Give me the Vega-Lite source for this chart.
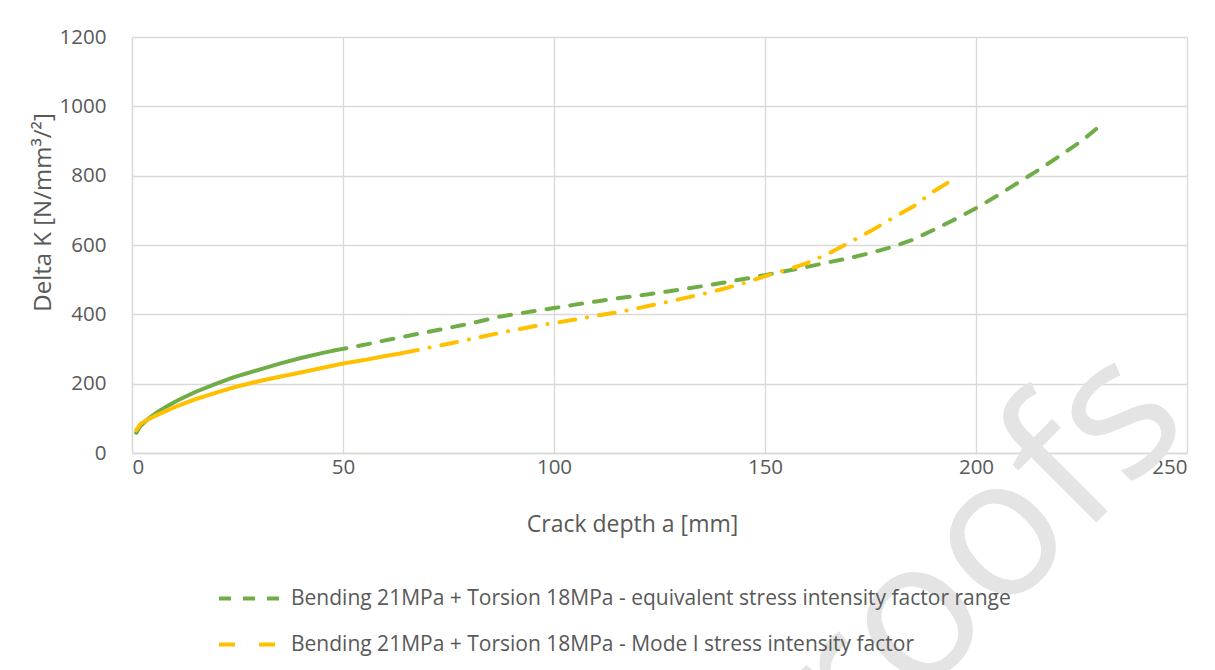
{
  "$schema": "https://vega.github.io/schema/vega-lite/v6.json",
  "width": 1055,
  "height": 416,
  "autosize": {"type": "none"},
  "padding": {"left": 132, "top": 37, "right": 28, "bottom": 217},
  "background": "white",
  "config": {
    "view": {"stroke": null},
    "font": "Open Sans",
    "axis": {
      "labelFont": "Open Sans",
      "titleFont": "Open Sans",
      "labelColor": "#595959",
      "titleColor": "#595959",
      "labelFontSize": 20.5,
      "titleFontSize": 23,
      "titleFontWeight": "normal",
      "ticks": false,
      "gridColor": "#D9D9D9",
      "gridWidth": 1.3,
      "domainColor": "#D9D9D9",
      "domainWidth": 1.3
    },
    "legend": {
      "labelFont": "Open Sans",
      "labelFontSize": 21,
      "labelColor": "#595959",
      "labelLimit": 1000
    }
  },
  "datasets": {
    "curves": [
      {"series": "G", "a": 1, "K": 58},
      {"series": "G", "a": 2, "K": 78},
      {"series": "G", "a": 4, "K": 100},
      {"series": "G", "a": 6, "K": 118},
      {"series": "G", "a": 8, "K": 133},
      {"series": "G", "a": 11, "K": 153},
      {"series": "G", "a": 15, "K": 176},
      {"series": "G", "a": 20, "K": 200},
      {"series": "G", "a": 24, "K": 218},
      {"series": "G", "a": 30, "K": 240},
      {"series": "G", "a": 35, "K": 258},
      {"series": "G", "a": 40, "K": 274},
      {"series": "G", "a": 45, "K": 288},
      {"series": "G", "a": 48, "K": 296},
      {"series": "G", "a": 55, "K": 312},
      {"series": "G", "a": 60, "K": 325},
      {"series": "G", "a": 65, "K": 337},
      {"series": "G", "a": 70, "K": 349},
      {"series": "G", "a": 75, "K": 361},
      {"series": "G", "a": 80, "K": 373},
      {"series": "G", "a": 87, "K": 393},
      {"series": "G", "a": 95, "K": 409},
      {"series": "G", "a": 100, "K": 418},
      {"series": "G", "a": 105, "K": 428},
      {"series": "G", "a": 110, "K": 437},
      {"series": "G", "a": 115, "K": 446},
      {"series": "G", "a": 120, "K": 454},
      {"series": "G", "a": 127, "K": 466},
      {"series": "G", "a": 135, "K": 481},
      {"series": "G", "a": 140, "K": 491},
      {"series": "G", "a": 145, "K": 502},
      {"series": "G", "a": 150, "K": 513},
      {"series": "G", "a": 155, "K": 525},
      {"series": "G", "a": 160, "K": 537},
      {"series": "G", "a": 165, "K": 550},
      {"series": "G", "a": 170, "K": 562},
      {"series": "G", "a": 175, "K": 577},
      {"series": "G", "a": 180, "K": 594},
      {"series": "G", "a": 185, "K": 615},
      {"series": "G", "a": 190, "K": 644},
      {"series": "G", "a": 195, "K": 674},
      {"series": "G", "a": 200, "K": 706},
      {"series": "G", "a": 205, "K": 742},
      {"series": "G", "a": 210, "K": 780},
      {"series": "G", "a": 215, "K": 818},
      {"series": "G", "a": 220, "K": 858},
      {"series": "G", "a": 225, "K": 900},
      {"series": "G", "a": 230, "K": 950},
      {"series": "Y", "a": 1, "K": 66},
      {"series": "Y", "a": 2, "K": 84},
      {"series": "Y", "a": 4, "K": 98},
      {"series": "Y", "a": 6, "K": 110},
      {"series": "Y", "a": 8, "K": 121},
      {"series": "Y", "a": 11, "K": 137},
      {"series": "Y", "a": 15, "K": 155},
      {"series": "Y", "a": 20, "K": 174},
      {"series": "Y", "a": 24, "K": 189},
      {"series": "Y", "a": 30, "K": 207},
      {"series": "Y", "a": 35, "K": 220},
      {"series": "Y", "a": 40, "K": 232},
      {"series": "Y", "a": 45, "K": 245},
      {"series": "Y", "a": 50, "K": 258},
      {"series": "Y", "a": 55, "K": 268},
      {"series": "Y", "a": 60, "K": 280},
      {"series": "Y", "a": 64, "K": 288},
      {"series": "Y", "a": 70, "K": 303},
      {"series": "Y", "a": 75, "K": 315},
      {"series": "Y", "a": 80, "K": 328},
      {"series": "Y", "a": 87, "K": 346},
      {"series": "Y", "a": 95, "K": 365},
      {"series": "Y", "a": 100, "K": 375},
      {"series": "Y", "a": 105, "K": 385},
      {"series": "Y", "a": 110, "K": 396},
      {"series": "Y", "a": 115, "K": 406},
      {"series": "Y", "a": 120, "K": 418},
      {"series": "Y", "a": 127, "K": 436},
      {"series": "Y", "a": 135, "K": 458},
      {"series": "Y", "a": 140, "K": 473},
      {"series": "Y", "a": 145, "K": 490},
      {"series": "Y", "a": 150, "K": 510},
      {"series": "Y", "a": 155, "K": 528},
      {"series": "Y", "a": 160, "K": 548},
      {"series": "Y", "a": 165, "K": 575},
      {"series": "Y", "a": 170, "K": 607},
      {"series": "Y", "a": 175, "K": 640},
      {"series": "Y", "a": 180, "K": 676},
      {"series": "Y", "a": 185, "K": 710},
      {"series": "Y", "a": 190, "K": 755},
      {"series": "Y", "a": 194, "K": 785}
    ],
    "mark": [{"a": 202, "K": -282, "word": "roofs"}]
  },
  "layer": [
    {
      "data": {"name": "mark"},
      "mark": {"type": "text", "angle": -45, "fontSize": 195, "font": "Open Sans", "color": "#E4E4E4", "align": "center", "baseline": "middle"},
      "encoding": {
        "x": {"field": "a", "type": "quantitative", "scale": {"domain": [0, 250]}},
        "y": {"field": "K", "type": "quantitative", "scale": {"domain": [0, 1200]}},
        "text": {"field": "word"}
      }
    },
    {
      "data": {"name": "curves"},
      "transform": [{"filter": "(datum.series == 'G' && datum.a <= 48) || (datum.series == 'Y' && datum.a <= 64)"}],
      "mark": {"type": "line", "strokeWidth": 4, "strokeCap": "round"},
      "encoding": {
        "x": {"field": "a", "type": "quantitative"},
        "y": {"field": "K", "type": "quantitative"},
        "color": {"field": "series", "type": "nominal"},
        "detail": {"field": "series"}
      }
    },
    {
      "data": {"name": "curves"},
      "transform": [{"filter": "(datum.series == 'G' && datum.a >= 48) || (datum.series == 'Y' && datum.a >= 64)"}],
      "mark": {"type": "line", "strokeWidth": 4, "strokeCap": "round"},
      "encoding": {
        "x": {
          "field": "a", "type": "quantitative",
          "scale": {"domain": [0, 250], "nice": false, "zero": false},
          "axis": {"values": [0, 50, 100, 150, 200, 250], "format": "d", "title": "Crack depth a [mm]", "labelPadding": 4, "titleX": 500, "titleY": 71, "titleBaseline": "middle", "titleAnchor": "middle"}
        },
        "y": {
          "field": "K", "type": "quantitative",
          "scale": {"domain": [0, 1200], "nice": false},
          "axis": {"values": [0, 200, 400, 600, 800, 1000, 1200], "format": "d", "title": "Delta K [N/mm³/²]", "titleFontSize": 24, "labelPadding": 26, "titleX": -89, "titleY": 175, "titleAngle": -90, "titleAlign": "center", "titleBaseline": "middle"}
        },
        "color": {
          "field": "series", "type": "nominal",
          "scale": {"domain": ["G", "Y"], "range": ["#70AD47", "#FFC000"]},
          "legend": {
            "orient": "none", "legendX": 85, "legendY": 527, "title": null,
            "symbolType": "stroke", "symbolSize": 4225, "symbolStrokeWidth": 4,
            "labelOffset": 5, "rowPadding": 1,
            "labelExpr": "datum.value == 'G' ? 'Bending 21MPa + Torsion 18MPa - equivalent stress intensity factor range' : 'Bending 21MPa + Torsion 18MPa - Mode I stress intensity factor'"
          }
        },
        "strokeDash": {
          "field": "series", "type": "nominal",
          "scale": {"domain": ["G", "Y"], "range": [[12, 12], [16, 12, 0.1, 12]]},
          "legend": {
            "orient": "none", "legendX": 85, "legendY": 527, "title": null,
            "symbolType": "stroke", "symbolSize": 4225, "symbolStrokeWidth": 4,
            "labelOffset": 5, "rowPadding": 1,
            "labelExpr": "datum.value == 'G' ? 'Bending 21MPa + Torsion 18MPa - equivalent stress intensity factor range' : 'Bending 21MPa + Torsion 18MPa - Mode I stress intensity factor'"
          }
        }
      }
    }
  ]
}
